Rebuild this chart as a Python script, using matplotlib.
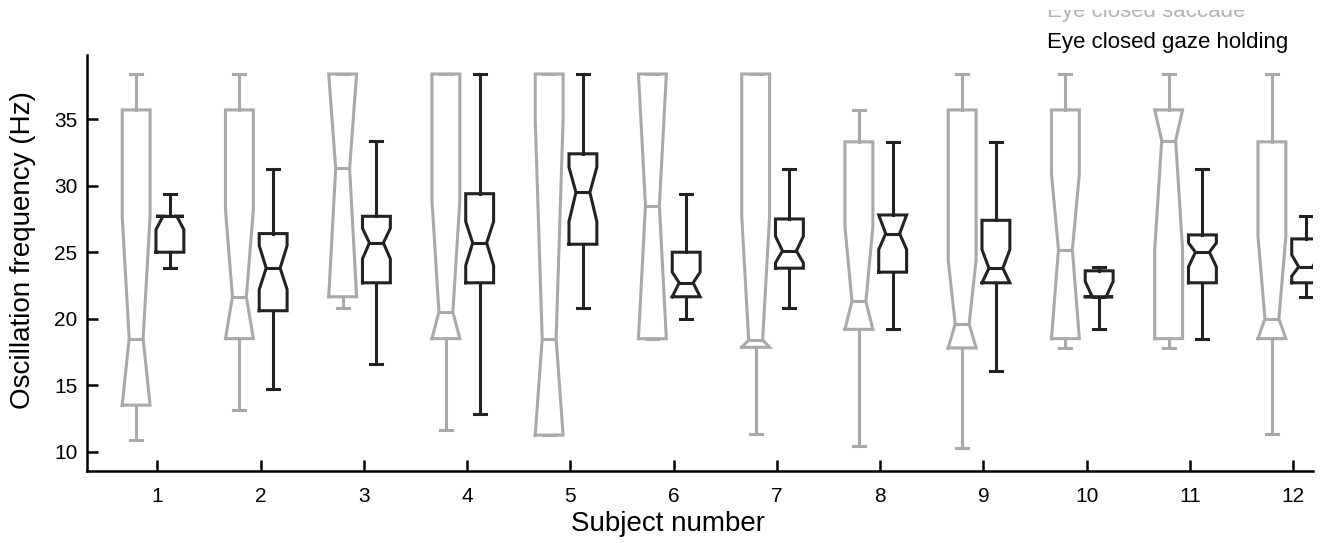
import matplotlib
matplotlib.use("Agg")
import matplotlib.pyplot as plt
from matplotlib.transforms import Bbox

plt.rcParams['font.family'] = ['Liberation Sans', 'DejaVu Sans']

subjects = [1, 2, 3, 4, 5, 6, 7, 8, 9, 10, 11, 12]
tick_labels = [str(s) for s in subjects]

# Eye closed saccade (grey)
sac_whislo = [10.9, 13.1, 20.8, 11.6, 11.25, 18.5, 11.3, 10.4, 10.25, 17.8, 17.8, 11.3]
sac_q1     = [13.5, 18.5, 21.65, 18.5, 11.25, 18.5, 17.85, 19.2, 17.8, 18.5, 18.5, 18.5]
sac_cilo   = [13.5, 18.5, 21.65, 18.5, 11.25, 18.5, 17.85, 19.2, 17.8, 18.5, 25.2, 18.5]
sac_med    = [18.5, 21.65, 31.3, 20.5, 18.5, 28.5, 18.4, 21.3, 19.6, 25.2, 33.4, 20.0]
sac_cihi   = [27.7, 28.2, 38.4, 28.9, 35.0, 38.4, 27.7, 26.9, 24.4, 30.9, 35.7, 26.2]
sac_q3     = [35.7, 35.7, 38.4, 38.4, 38.4, 38.4, 38.4, 33.3, 35.7, 35.7, 35.7, 33.3]
sac_whishi = [38.4, 38.4, 38.4, 38.4, 38.4, 38.4, 38.4, 35.7, 38.4, 38.4, 38.4, 38.4]

# Eye closed gaze holding (black)
gaze_whislo = [23.8, 14.7, 16.6, 12.8, 20.8, 20.0, 20.8, 19.2, 16.1, 19.2, 18.5, 21.65]
gaze_q1     = [25.0, 20.6, 22.7, 22.7, 25.6, 21.65, 23.8, 23.5, 22.7, 21.65, 22.7, 22.7]
gaze_cilo   = [26.7, 22.2, 24.5, 24.0, 27.3, 21.65, 24.2, 25.2, 22.7, 21.65, 23.9, 23.2]
gaze_med    = [27.7, 23.8, 25.7, 25.7, 29.5, 22.7, 25.1, 26.4, 23.8, 21.65, 25.0, 23.9]
gaze_cihi   = [27.7, 25.5, 26.8, 27.3, 31.4, 23.5, 26.2, 27.8, 25.2, 22.8, 25.7, 24.8]
gaze_q3     = [27.7, 26.4, 27.7, 29.4, 32.4, 25.0, 27.5, 27.8, 27.4, 23.6, 26.3, 26.0]
gaze_whishi = [29.4, 31.25, 33.4, 38.4, 38.4, 29.4, 31.25, 33.3, 33.3, 23.9, 31.25, 27.7]

series_labels = ["Eye closed saccade", "Eye closed gaze holding"]
GREY = "#a9a9a9"
DARK = "#222222"


def make_stats(wlo, q1, cilo, med, cihi, q3, whi):
    return [dict(whislo=a, q1=b, cilo=c, med=d, cihi=e, q3=f, whishi=g, fliers=[])
            for a, b, c, d, e, f, g in zip(wlo, q1, cilo, med, cihi, q3, whi)]


W, H = 1326, 543
fig = plt.figure(figsize=(W / 100, H / 100), dpi=100)
ax = fig.add_axes([87 / W, 1 - 470.7 / H, (1312.7 - 87) / W, (470.7 - 55) / H])

groups = [
    (make_stats(sac_whislo, sac_q1, sac_cilo, sac_med, sac_cihi, sac_q3, sac_whishi), -0.205, GREY),
    (make_stats(gaze_whislo, gaze_q1, gaze_cilo, gaze_med, gaze_cihi, gaze_q3, gaze_whishi), 0.122, DARK),
]
for stats, off, col in groups:
    lw = 2.2
    ax.bxp(stats, positions=[s + off for s in subjects], widths=0.27,
           shownotches=True, showfliers=False, capwidths=0.115,
           boxprops=dict(color=col, linewidth=lw, solid_joinstyle='miter'),
           whiskerprops=dict(color=col, linewidth=lw),
           capprops=dict(color=col, linewidth=lw),
           medianprops=dict(color=col, linewidth=lw), manage_ticks=False)

ax.set_xlim(0.319, 12.19)
ax.set_ylim(8.57, 39.83)
ax.set_xticks(subjects)
ax.set_xticklabels(tick_labels)
ax.set_yticks([10, 15, 20, 25, 30, 35])
for sp in ['top', 'right']:
    ax.spines[sp].set_visible(False)
for sp in ['left', 'bottom']:
    ax.spines[sp].set_linewidth(1.8)
    ax.spines[sp].set_color('black')
ax.tick_params(direction='in', length=8, width=1.8, labelsize=15, pad=7)
ax.tick_params(axis='x', pad=12)

ax.set_xlabel("Subject number", fontsize=20)
ax.xaxis.set_label_coords((668 - 87) / (1312.7 - 87), -0.097)
ax.set_ylabel("Oscillation frequency (Hz)", fontsize=20)
ax.yaxis.set_label_coords(-0.042, (470.7 - 250) / (470.7 - 55))

clip = Bbox.from_extents(0, 0, W, H - 10)
t1 = fig.text(1047 / W, 1 - 16.5 / H, series_labels[0], color="#b3b3b3", fontsize=16,
              va='baseline', ha='left')
t1.set_clip_box(clip)
t1.set_clip_on(True)
fig.text(1047 / W, 1 - 48 / H, series_labels[1], color='black', fontsize=16,
         va='baseline', ha='left')

fig.savefig("out.png", dpi=100)
